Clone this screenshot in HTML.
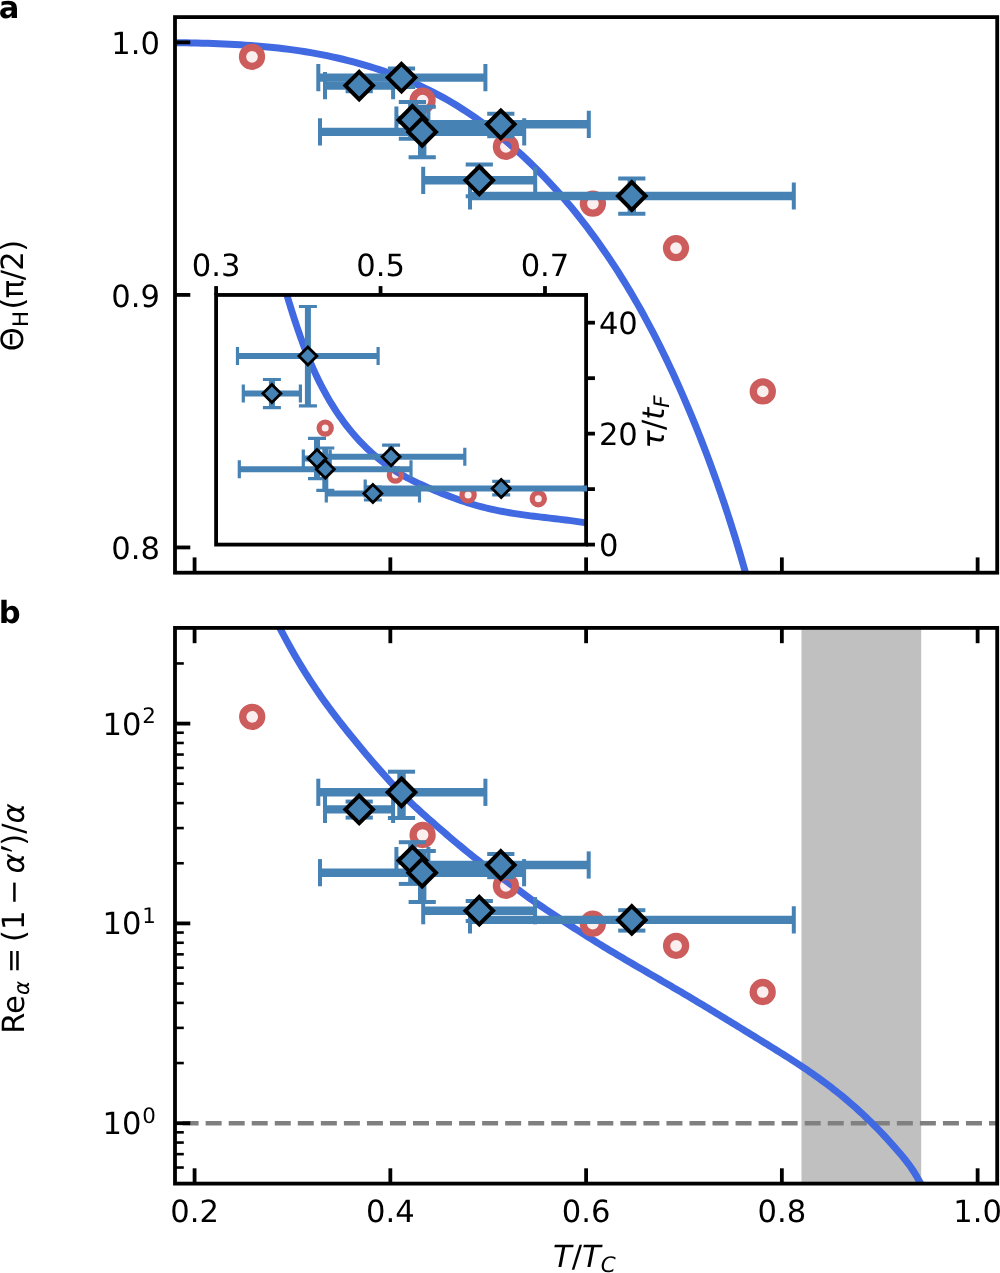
<!DOCTYPE html>
<html lang="en"><head><meta charset="utf-8"><title>Figure</title>
<style>html,body{margin:0;padding:0;background:#fff}svg{display:block;will-change:transform}text{text-rendering:geometricPrecision}</style></head>
<body>
<svg width="1000" height="1273" viewBox="0 0 1000 1273" font-family='"DejaVu Sans", "Liberation Sans", sans-serif' fill="#000">
<defs>
<clipPath id="ca"><rect x="175.0" y="17.1" width="822.2" height="555.6"/></clipPath>
<clipPath id="cb"><rect x="175.0" y="627.9" width="822.2" height="555.7"/></clipPath>
<clipPath id="ci"><rect x="216.1" y="294.95" width="370" height="249.65"/></clipPath>
</defs>
<rect x="0" y="0" width="1000" height="1273" fill="#fff"/>
<g id="panel-a">
<g clip-path="url(#ca)">
<path d="M170.06,42.58 L175.4,42.65 L180.76,42.73 L186.13,42.83 L191.51,42.93 L196.91,43.05 L202.31,43.19 L207.72,43.34 L213.14,43.52 L218.57,43.72 L224,43.95 L229.44,44.2 L234.88,44.49 L240.33,44.8 L245.77,45.15 L251.22,45.53 L256.66,45.95 L262.1,46.41 L267.55,46.91 L272.98,47.46 L278.41,48.05 L283.84,48.68 L289.26,49.37 L294.67,50.11 L300.07,50.9 L305.46,51.75 L310.84,52.65 L316.21,53.6 L321.57,54.61 L326.91,55.68 L332.23,56.81 L337.54,58 L342.83,59.24 L348.11,60.55 L353.36,61.91 L358.59,63.34 L363.8,64.83 L368.99,66.38 L374.15,67.99 L379.29,69.67 L384.41,71.42 L389.49,73.23 L394.55,75.1 L399.58,77.05 L404.58,79.06 L409.55,81.14 L414.48,83.29 L419.39,85.51 L424.25,87.8 L429.09,90.16 L433.88,92.59 L438.64,95.09 L443.36,97.67 L448.04,100.32 L452.69,103.04 L457.29,105.82 L461.86,108.68 L466.39,111.6 L470.88,114.58 L475.33,117.63 L479.75,120.74 L484.12,123.91 L488.46,127.14 L492.76,130.42 L497.02,133.77 L501.24,137.17 L505.42,140.62 L509.56,144.13 L513.66,147.68 L517.73,151.29 L521.75,154.95 L525.74,158.66 L529.68,162.41 L533.59,166.2 L537.46,170.05 L541.28,173.93 L545.07,177.85 L548.82,181.82 L552.53,185.82 L556.2,189.86 L559.82,193.94 L563.41,198.05 L566.96,202.2 L570.47,206.37 L573.94,210.58 L577.37,214.82 L580.75,219.09 L584.1,223.38 L587.41,227.7 L590.67,232.05 L593.9,236.42 L597.09,240.81 L600.23,245.23 L603.34,249.67 L606.42,254.13 L609.45,258.62 L612.45,263.12 L615.41,267.65 L618.33,272.2 L621.22,276.78 L624.08,281.37 L626.9,285.98 L629.69,290.61 L632.44,295.27 L635.16,299.94 L637.85,304.63 L640.51,309.34 L643.13,314.06 L645.73,318.81 L648.29,323.57 L650.83,328.35 L653.33,333.15 L655.81,337.96 L658.26,342.79 L660.68,347.63 L663.07,352.49 L665.44,357.36 L667.78,362.25 L670.09,367.15 L672.38,372.07 L674.65,377 L676.89,381.94 L679.1,386.89 L681.3,391.86 L683.47,396.84 L685.62,401.83 L687.75,406.83 L689.85,411.84 L691.94,416.87 L694,421.9 L696.05,426.94 L698.07,431.99 L700.07,437.05 L702.06,442.12 L704.02,447.2 L705.96,452.28 L707.88,457.37 L709.78,462.47 L711.65,467.58 L713.51,472.69 L715.35,477.81 L717.17,482.93 L718.96,488.06 L720.74,493.19 L722.49,498.33 L724.22,503.47 L725.94,508.62 L727.63,513.77 L729.3,518.92 L730.95,524.08 L732.58,529.23 L734.19,534.39 L735.78,539.55 L737.34,544.71 L738.89,549.88 L740.42,555.04 L741.92,560.2 L743.4,565.36 L744.87,570.53 L746.31,575.69" fill="none" stroke="#4169e1" stroke-width="7.0" stroke-linejoin="round"/>
<circle cx="252" cy="56.8" r="9.5" fill="#cd5c5c" fill-opacity="0.1" stroke="#cd5c5c" stroke-width="7.3"/>
<circle cx="422.6" cy="100.6" r="9.5" fill="#cd5c5c" fill-opacity="0.1" stroke="#cd5c5c" stroke-width="7.3"/>
<circle cx="505.9" cy="146.8" r="9.5" fill="#cd5c5c" fill-opacity="0.1" stroke="#cd5c5c" stroke-width="7.3"/>
<circle cx="592.9" cy="203.6" r="9.5" fill="#cd5c5c" fill-opacity="0.1" stroke="#cd5c5c" stroke-width="7.3"/>
<circle cx="676" cy="248.2" r="9.5" fill="#cd5c5c" fill-opacity="0.1" stroke="#cd5c5c" stroke-width="7.3"/>
<circle cx="762.8" cy="391.4" r="9.5" fill="#cd5c5c" fill-opacity="0.1" stroke="#cd5c5c" stroke-width="7.3"/>
<line x1="325" y1="85.6" x2="393.1" y2="85.6" stroke="#4682b4" stroke-width="8.4"/>
<line x1="359.2" y1="80" x2="359.2" y2="91.2" stroke="#4682b4" stroke-width="8.4"/>
<line x1="318.3" y1="77.6" x2="485.4" y2="77.6" stroke="#4682b4" stroke-width="8.4"/>
<line x1="401.5" y1="68.6" x2="401.5" y2="87" stroke="#4682b4" stroke-width="8.4"/>
<line x1="396.4" y1="120" x2="428.4" y2="120" stroke="#4682b4" stroke-width="8.4"/>
<line x1="412.4" y1="102" x2="412.4" y2="138.8" stroke="#4682b4" stroke-width="8.4"/>
<line x1="320" y1="131.9" x2="524.2" y2="131.9" stroke="#4682b4" stroke-width="8.4"/>
<line x1="422.2" y1="106.8" x2="422.2" y2="157.2" stroke="#4682b4" stroke-width="8.4"/>
<line x1="412.8" y1="124.3" x2="588.8" y2="124.3" stroke="#4682b4" stroke-width="8.4"/>
<line x1="500.8" y1="113.7" x2="500.8" y2="136.3" stroke="#4682b4" stroke-width="8.4"/>
<line x1="423.2" y1="180.3" x2="535.2" y2="180.3" stroke="#4682b4" stroke-width="8.4"/>
<line x1="479.3" y1="164.4" x2="479.3" y2="196.2" stroke="#4682b4" stroke-width="8.4"/>
<line x1="470" y1="196" x2="793.8" y2="196" stroke="#4682b4" stroke-width="8.4"/>
<line x1="631.8" y1="178.6" x2="631.8" y2="213.8" stroke="#4682b4" stroke-width="8.4"/>
<line x1="325" y1="72" x2="325" y2="99.2" stroke="#4682b4" stroke-width="4.0"/>
<line x1="393.1" y1="72" x2="393.1" y2="99.2" stroke="#4682b4" stroke-width="4.0"/>
<line x1="345.6" y1="80" x2="372.8" y2="80" stroke="#4682b4" stroke-width="4.0"/>
<line x1="345.6" y1="91.2" x2="372.8" y2="91.2" stroke="#4682b4" stroke-width="4.0"/>
<line x1="318.3" y1="64" x2="318.3" y2="91.2" stroke="#4682b4" stroke-width="4.0"/>
<line x1="485.4" y1="64" x2="485.4" y2="91.2" stroke="#4682b4" stroke-width="4.0"/>
<line x1="387.9" y1="68.6" x2="415.1" y2="68.6" stroke="#4682b4" stroke-width="4.0"/>
<line x1="387.9" y1="87" x2="415.1" y2="87" stroke="#4682b4" stroke-width="4.0"/>
<line x1="396.4" y1="106.4" x2="396.4" y2="133.6" stroke="#4682b4" stroke-width="4.0"/>
<line x1="428.4" y1="106.4" x2="428.4" y2="133.6" stroke="#4682b4" stroke-width="4.0"/>
<line x1="398.8" y1="102" x2="426" y2="102" stroke="#4682b4" stroke-width="4.0"/>
<line x1="398.8" y1="138.8" x2="426" y2="138.8" stroke="#4682b4" stroke-width="4.0"/>
<line x1="320" y1="118.3" x2="320" y2="145.5" stroke="#4682b4" stroke-width="4.0"/>
<line x1="524.2" y1="118.3" x2="524.2" y2="145.5" stroke="#4682b4" stroke-width="4.0"/>
<line x1="408.6" y1="106.8" x2="435.8" y2="106.8" stroke="#4682b4" stroke-width="4.0"/>
<line x1="408.6" y1="157.2" x2="435.8" y2="157.2" stroke="#4682b4" stroke-width="4.0"/>
<line x1="412.8" y1="110.7" x2="412.8" y2="137.9" stroke="#4682b4" stroke-width="4.0"/>
<line x1="588.8" y1="110.7" x2="588.8" y2="137.9" stroke="#4682b4" stroke-width="4.0"/>
<line x1="487.2" y1="113.7" x2="514.4" y2="113.7" stroke="#4682b4" stroke-width="4.0"/>
<line x1="487.2" y1="136.3" x2="514.4" y2="136.3" stroke="#4682b4" stroke-width="4.0"/>
<line x1="423.2" y1="166.7" x2="423.2" y2="193.9" stroke="#4682b4" stroke-width="4.0"/>
<line x1="535.2" y1="166.7" x2="535.2" y2="193.9" stroke="#4682b4" stroke-width="4.0"/>
<line x1="465.7" y1="164.4" x2="492.9" y2="164.4" stroke="#4682b4" stroke-width="4.0"/>
<line x1="465.7" y1="196.2" x2="492.9" y2="196.2" stroke="#4682b4" stroke-width="4.0"/>
<line x1="470" y1="182.4" x2="470" y2="209.6" stroke="#4682b4" stroke-width="4.0"/>
<line x1="793.8" y1="182.4" x2="793.8" y2="209.6" stroke="#4682b4" stroke-width="4.0"/>
<line x1="618.2" y1="178.6" x2="645.4" y2="178.6" stroke="#4682b4" stroke-width="4.0"/>
<line x1="618.2" y1="213.8" x2="645.4" y2="213.8" stroke="#4682b4" stroke-width="4.0"/>
<path d="M359.2,71.8 L373,85.6 L359.2,99.4 L345.4,85.6 Z" fill="#4682b4" stroke="#000" stroke-width="4.0" stroke-linejoin="miter"/>
<path d="M401.5,63.8 L415.3,77.6 L401.5,91.4 L387.7,77.6 Z" fill="#4682b4" stroke="#000" stroke-width="4.0" stroke-linejoin="miter"/>
<path d="M412.4,106.2 L426.2,120 L412.4,133.8 L398.6,120 Z" fill="#4682b4" stroke="#000" stroke-width="4.0" stroke-linejoin="miter"/>
<path d="M422.2,118.1 L436,131.9 L422.2,145.7 L408.4,131.9 Z" fill="#4682b4" stroke="#000" stroke-width="4.0" stroke-linejoin="miter"/>
<path d="M500.8,110.5 L514.6,124.3 L500.8,138.1 L487,124.3 Z" fill="#4682b4" stroke="#000" stroke-width="4.0" stroke-linejoin="miter"/>
<path d="M479.3,166.5 L493.1,180.3 L479.3,194.1 L465.5,180.3 Z" fill="#4682b4" stroke="#000" stroke-width="4.0" stroke-linejoin="miter"/>
<path d="M631.8,182.2 L645.6,196 L631.8,209.8 L618,196 Z" fill="#4682b4" stroke="#000" stroke-width="4.0" stroke-linejoin="miter"/>
</g>
<line x1="175" y1="547.45" x2="190.3" y2="547.45" stroke="#000" stroke-width="3.8"/>
<text x="160" y="559.2" font-size="30.6" text-anchor="end">0.8</text>
<line x1="175" y1="294.9" x2="190.3" y2="294.9" stroke="#000" stroke-width="3.8"/>
<text x="160" y="306.65" font-size="30.6" text-anchor="end">0.9</text>
<line x1="175" y1="42.35" x2="190.3" y2="42.35" stroke="#000" stroke-width="3.8"/>
<text x="160" y="54.1" font-size="30.6" text-anchor="end">1.0</text>
<line x1="194.58" y1="572.7" x2="194.58" y2="557.4" stroke="#000" stroke-width="3.8"/>
<line x1="390.34" y1="572.7" x2="390.34" y2="557.4" stroke="#000" stroke-width="3.8"/>
<line x1="586.1" y1="572.7" x2="586.1" y2="557.4" stroke="#000" stroke-width="3.8"/>
<line x1="781.86" y1="572.7" x2="781.86" y2="557.4" stroke="#000" stroke-width="3.8"/>
<line x1="977.62" y1="572.7" x2="977.62" y2="557.4" stroke="#000" stroke-width="3.8"/>
<rect x="175" y="17.1" width="822.2" height="555.6" fill="none" stroke="#000" stroke-width="3.8"/>
</g>
<g id="inset">
<rect x="216.1" y="294.95" width="370" height="249.65" fill="#fff"/>
<g clip-path="url(#ci)">
<path d="M285.45,290.07 L286.44,293.42 L287.44,296.79 L288.46,300.15 L289.48,303.51 L290.51,306.88 L291.56,310.24 L292.62,313.61 L293.7,316.97 L294.79,320.33 L295.9,323.68 L297.02,327.03 L298.17,330.38 L299.33,333.72 L300.51,337.05 L301.72,340.38 L302.95,343.7 L304.2,347.01 L305.47,350.31 L306.77,353.6 L308.1,356.87 L309.45,360.14 L310.83,363.39 L312.24,366.63 L313.68,369.86 L315.15,373.07 L316.65,376.26 L318.18,379.44 L319.75,382.6 L321.35,385.74 L322.98,388.86 L324.66,391.96 L326.37,395.04 L328.11,398.1 L329.9,401.14 L331.73,404.16 L333.6,407.15 L335.51,410.12 L337.46,413.06 L339.46,415.97 L341.5,418.86 L343.58,421.72 L345.72,424.55 L347.9,427.35 L350.12,430.12 L352.39,432.85 L354.7,435.55 L357.06,438.21 L359.47,440.83 L361.91,443.4 L364.41,445.93 L366.95,448.42 L369.53,450.86 L372.15,453.25 L374.82,455.59 L377.53,457.87 L380.28,460.1 L383.07,462.28 L385.89,464.4 L388.75,466.45 L391.64,468.44 L394.57,470.37 L397.52,472.24 L400.51,474.04 L403.51,475.76 L406.55,477.42 L409.61,479.03 L412.69,480.58 L415.8,482.09 L418.93,483.56 L422.09,485 L425.26,486.42 L428.45,487.82 L431.67,489.2 L434.91,490.56 L438.16,491.9 L441.43,493.23 L444.72,494.54 L448.03,495.83 L451.35,497.09 L454.69,498.32 L458.04,499.53 L461.41,500.7 L464.79,501.83 L468.18,502.93 L471.58,503.99 L475,505.01 L478.43,505.98 L481.86,506.9 L485.31,507.78 L488.77,508.6 L492.23,509.39 L495.7,510.13 L499.18,510.84 L502.66,511.5 L506.15,512.14 L509.64,512.74 L513.14,513.31 L516.64,513.85 L520.14,514.37 L523.65,514.87 L527.15,515.35 L530.66,515.81 L534.17,516.26 L537.67,516.69 L541.18,517.12 L544.68,517.53 L548.18,517.94 L551.68,518.35 L555.17,518.76 L558.66,519.17 L562.14,519.59 L565.61,520.01 L569.08,520.44 L572.54,520.89 L576,521.34 L579.44,521.82 L582.88,522.31 L586.3,522.83 L589.72,523.37" fill="none" stroke="#4169e1" stroke-width="6.9" stroke-linejoin="round"/>
<circle cx="325.2" cy="428.1" r="6.1" fill="#cd5c5c" fill-opacity="0.1" stroke="#cd5c5c" stroke-width="5.2"/>
<circle cx="395.4" cy="475.1" r="6.1" fill="#cd5c5c" fill-opacity="0.1" stroke="#cd5c5c" stroke-width="5.2"/>
<circle cx="468.1" cy="494.9" r="6.1" fill="#cd5c5c" fill-opacity="0.1" stroke="#cd5c5c" stroke-width="5.2"/>
<circle cx="538.3" cy="498.7" r="6.1" fill="#cd5c5c" fill-opacity="0.1" stroke="#cd5c5c" stroke-width="5.2"/>
<line x1="237.5" y1="356" x2="378.1" y2="356" stroke="#4682b4" stroke-width="6.0"/>
<line x1="307.9" y1="306.5" x2="307.9" y2="405.9" stroke="#4682b4" stroke-width="6.0"/>
<line x1="243.3" y1="393.5" x2="300.4" y2="393.5" stroke="#4682b4" stroke-width="6.0"/>
<line x1="271.9" y1="379.5" x2="271.9" y2="407.6" stroke="#4682b4" stroke-width="6.0"/>
<line x1="303.3" y1="458.6" x2="330.2" y2="458.6" stroke="#4682b4" stroke-width="6.0"/>
<line x1="317" y1="438.4" x2="317" y2="478.7" stroke="#4682b4" stroke-width="6.0"/>
<line x1="239.3" y1="469.3" x2="411" y2="469.3" stroke="#4682b4" stroke-width="6.0"/>
<line x1="325.3" y1="448" x2="325.3" y2="490.4" stroke="#4682b4" stroke-width="6.0"/>
<line x1="317.2" y1="456.7" x2="464.8" y2="456.7" stroke="#4682b4" stroke-width="6.0"/>
<line x1="391.1" y1="445.2" x2="391.1" y2="468.2" stroke="#4682b4" stroke-width="6.0"/>
<line x1="326.3" y1="493.6" x2="419.5" y2="493.6" stroke="#4682b4" stroke-width="6.0"/>
<line x1="372.9" y1="487.2" x2="372.9" y2="500" stroke="#4682b4" stroke-width="6.0"/>
<line x1="365.2" y1="488.5" x2="637" y2="488.5" stroke="#4682b4" stroke-width="6.0"/>
<line x1="501.2" y1="481.3" x2="501.2" y2="494.9" stroke="#4682b4" stroke-width="6.0"/>
<line x1="237.5" y1="347" x2="237.5" y2="365" stroke="#4682b4" stroke-width="3.2"/>
<line x1="378.1" y1="347" x2="378.1" y2="365" stroke="#4682b4" stroke-width="3.2"/>
<line x1="298.9" y1="306.5" x2="316.9" y2="306.5" stroke="#4682b4" stroke-width="3.2"/>
<line x1="298.9" y1="405.9" x2="316.9" y2="405.9" stroke="#4682b4" stroke-width="3.2"/>
<line x1="243.3" y1="384.5" x2="243.3" y2="402.5" stroke="#4682b4" stroke-width="3.2"/>
<line x1="300.4" y1="384.5" x2="300.4" y2="402.5" stroke="#4682b4" stroke-width="3.2"/>
<line x1="262.9" y1="379.5" x2="280.9" y2="379.5" stroke="#4682b4" stroke-width="3.2"/>
<line x1="262.9" y1="407.6" x2="280.9" y2="407.6" stroke="#4682b4" stroke-width="3.2"/>
<line x1="303.3" y1="449.6" x2="303.3" y2="467.6" stroke="#4682b4" stroke-width="3.2"/>
<line x1="330.2" y1="449.6" x2="330.2" y2="467.6" stroke="#4682b4" stroke-width="3.2"/>
<line x1="308" y1="438.4" x2="326" y2="438.4" stroke="#4682b4" stroke-width="3.2"/>
<line x1="308" y1="478.7" x2="326" y2="478.7" stroke="#4682b4" stroke-width="3.2"/>
<line x1="239.3" y1="460.3" x2="239.3" y2="478.3" stroke="#4682b4" stroke-width="3.2"/>
<line x1="411" y1="460.3" x2="411" y2="478.3" stroke="#4682b4" stroke-width="3.2"/>
<line x1="316.3" y1="448" x2="334.3" y2="448" stroke="#4682b4" stroke-width="3.2"/>
<line x1="316.3" y1="490.4" x2="334.3" y2="490.4" stroke="#4682b4" stroke-width="3.2"/>
<line x1="317.2" y1="447.7" x2="317.2" y2="465.7" stroke="#4682b4" stroke-width="3.2"/>
<line x1="464.8" y1="447.7" x2="464.8" y2="465.7" stroke="#4682b4" stroke-width="3.2"/>
<line x1="382.1" y1="445.2" x2="400.1" y2="445.2" stroke="#4682b4" stroke-width="3.2"/>
<line x1="382.1" y1="468.2" x2="400.1" y2="468.2" stroke="#4682b4" stroke-width="3.2"/>
<line x1="326.3" y1="484.6" x2="326.3" y2="502.6" stroke="#4682b4" stroke-width="3.2"/>
<line x1="419.5" y1="484.6" x2="419.5" y2="502.6" stroke="#4682b4" stroke-width="3.2"/>
<line x1="363.9" y1="487.2" x2="381.9" y2="487.2" stroke="#4682b4" stroke-width="3.2"/>
<line x1="363.9" y1="500" x2="381.9" y2="500" stroke="#4682b4" stroke-width="3.2"/>
<line x1="365.2" y1="479.5" x2="365.2" y2="497.5" stroke="#4682b4" stroke-width="3.2"/>
<line x1="637" y1="479.5" x2="637" y2="497.5" stroke="#4682b4" stroke-width="3.2"/>
<line x1="492.2" y1="481.3" x2="510.2" y2="481.3" stroke="#4682b4" stroke-width="3.2"/>
<line x1="492.2" y1="494.9" x2="510.2" y2="494.9" stroke="#4682b4" stroke-width="3.2"/>
<path d="M307.9,347 L316.9,356 L307.9,365 L298.9,356 Z" fill="#4682b4" stroke="#000" stroke-width="2.8" stroke-linejoin="miter"/>
<path d="M271.9,384.5 L280.9,393.5 L271.9,402.5 L262.9,393.5 Z" fill="#4682b4" stroke="#000" stroke-width="2.8" stroke-linejoin="miter"/>
<path d="M317,449.6 L326,458.6 L317,467.6 L308,458.6 Z" fill="#4682b4" stroke="#000" stroke-width="2.8" stroke-linejoin="miter"/>
<path d="M325.3,460.3 L334.3,469.3 L325.3,478.3 L316.3,469.3 Z" fill="#4682b4" stroke="#000" stroke-width="2.8" stroke-linejoin="miter"/>
<path d="M391.1,447.7 L400.1,456.7 L391.1,465.7 L382.1,456.7 Z" fill="#4682b4" stroke="#000" stroke-width="2.8" stroke-linejoin="miter"/>
<path d="M372.9,484.6 L381.9,493.6 L372.9,502.6 L363.9,493.6 Z" fill="#4682b4" stroke="#000" stroke-width="2.8" stroke-linejoin="miter"/>
<path d="M501.2,479.5 L510.2,488.5 L501.2,497.5 L492.2,488.5 Z" fill="#4682b4" stroke="#000" stroke-width="2.8" stroke-linejoin="miter"/>
</g>
<line x1="216.1" y1="294.95" x2="216.1" y2="286.1" stroke="#000" stroke-width="3.8"/>
<text x="216.1" y="276" font-size="30.6" text-anchor="middle">0.3</text>
<line x1="380.54" y1="294.95" x2="380.54" y2="286.1" stroke="#000" stroke-width="3.8"/>
<text x="380.54" y="276" font-size="30.6" text-anchor="middle">0.5</text>
<line x1="544.99" y1="294.95" x2="544.99" y2="286.1" stroke="#000" stroke-width="3.8"/>
<text x="544.99" y="276" font-size="30.6" text-anchor="middle">0.7</text>
<line x1="586.1" y1="544.6" x2="594.95" y2="544.6" stroke="#000" stroke-width="3.8"/>
<line x1="586.1" y1="489.12" x2="594.95" y2="489.12" stroke="#000" stroke-width="3.8"/>
<line x1="586.1" y1="433.64" x2="594.95" y2="433.64" stroke="#000" stroke-width="3.8"/>
<line x1="586.1" y1="378.17" x2="594.95" y2="378.17" stroke="#000" stroke-width="3.8"/>
<line x1="586.1" y1="322.69" x2="594.95" y2="322.69" stroke="#000" stroke-width="3.8"/>
<text x="598.9" y="556.4" font-size="30.6" text-anchor="start">0</text>
<text x="598.9" y="445.44" font-size="30.6" text-anchor="start">20</text>
<text x="598.9" y="334.49" font-size="30.6" text-anchor="start">40</text>
<rect x="216.1" y="294.95" width="370" height="249.65" fill="none" stroke="#000" stroke-width="3.8"/>
<rect x="583" y="485.5" width="4.0" height="6.0" fill="#4682b4"/>
<text transform="translate(664.2,422) rotate(-90)" font-size="30.6" text-anchor="middle"><tspan font-style="oblique">τ</tspan>/<tspan font-style="oblique">t</tspan><tspan font-style="oblique" font-size="21.4" dy="5">F</tspan></text>
</g>
<g id="panel-b">
<g clip-path="url(#cb)">
<rect x="801.5" y="627.9" width="119.7" height="555.7" fill="#c0c0c0"/>
<line x1="159.56" y1="1123.2" x2="997.2" y2="1123.2" stroke="#808080" stroke-width="4.4" stroke-dasharray="16 7.04"/>
<path d="M277.1,622.7 L281.1,630.34 L283.77,635.44 L286.44,640.42 L289.11,645.3 L291.78,650.08 L294.45,654.75 L297.12,659.32 L299.79,663.8 L302.46,668.19 L305.13,672.49 L307.8,676.71 L310.47,680.84 L313.14,684.9 L315.81,688.88 L318.48,692.79 L321.15,696.63 L323.82,700.4 L326.49,704.11 L329.16,707.77 L331.83,711.37 L334.5,714.91 L337.17,718.41 L339.84,721.87 L342.51,725.28 L345.18,728.65 L347.85,731.99 L350.52,735.29 L353.19,738.57 L355.86,741.82 L358.53,745.05 L361.2,748.26 L363.87,751.45 L366.54,754.63 L369.21,757.78 L371.88,760.91 L374.55,764.02 L377.22,767.1 L379.89,770.15 L382.56,773.17 L385.23,776.15 L387.89,779.1 L390.56,782.01 L393.23,784.87 L395.9,787.7 L398.57,790.48 L401.24,793.21 L403.91,795.89 L406.58,798.53 L409.25,801.12 L411.92,803.67 L414.59,806.19 L417.26,808.67 L419.93,811.12 L422.6,813.54 L425.27,815.93 L427.94,818.3 L430.61,820.65 L433.28,822.99 L435.95,825.31 L438.62,827.62 L441.29,829.92 L443.96,832.22 L446.63,834.51 L449.3,836.79 L451.97,839.06 L454.64,841.32 L457.31,843.57 L459.98,845.8 L462.65,848.02 L465.32,850.22 L467.99,852.4 L470.66,854.55 L473.33,856.69 L476,858.79 L478.67,860.88 L481.34,862.93 L484.01,864.96 L486.68,866.96 L489.35,868.94 L492.02,870.9 L494.69,872.84 L497.36,874.77 L500.03,876.69 L502.7,878.61 L505.37,880.53 L508.04,882.44 L510.71,884.36 L513.38,886.28 L516.05,888.22 L518.72,890.17 L521.39,892.14 L524.06,894.12 L526.73,896.1 L529.4,898.06 L532.07,899.99 L534.74,901.85 L537.41,903.68 L540.08,905.48 L542.75,907.27 L545.42,909.06 L548.09,910.85 L550.76,912.63 L553.43,914.41 L556.1,916.19 L558.77,917.97 L561.44,919.73 L564.11,921.49 L566.78,923.24 L569.45,924.99 L572.12,926.72 L574.79,928.45 L577.46,930.17 L580.13,931.88 L582.8,933.59 L585.47,935.28 L588.14,936.97 L590.81,938.65 L593.48,940.31 L596.15,941.97 L598.82,943.63 L601.48,945.27 L604.15,946.9 L606.82,948.52 L609.49,950.14 L612.16,951.75 L614.83,953.34 L617.5,954.94 L620.17,956.52 L622.84,958.11 L625.51,959.68 L628.18,961.25 L630.85,962.82 L633.52,964.38 L636.19,965.94 L638.86,967.49 L641.53,969.04 L644.2,970.59 L646.87,972.14 L649.54,973.69 L652.21,975.24 L654.88,976.79 L657.55,978.33 L660.22,979.88 L662.89,981.43 L665.56,982.98 L668.23,984.53 L670.9,986.09 L673.57,987.65 L676.24,989.21 L678.91,990.78 L681.58,992.35 L684.25,993.93 L686.92,995.51 L689.59,997.1 L692.26,998.69 L694.93,1000.28 L697.6,1001.88 L700.27,1003.49 L702.94,1005.09 L705.61,1006.7 L708.28,1008.32 L710.95,1009.93 L713.62,1011.55 L716.29,1013.18 L718.96,1014.8 L721.63,1016.43 L724.3,1018.06 L726.97,1019.69 L729.64,1021.33 L732.31,1022.96 L734.98,1024.6 L737.65,1026.24 L740.32,1027.88 L742.99,1029.52 L745.66,1031.16 L748.33,1032.81 L751,1034.45 L753.67,1036.09 L756.34,1037.74 L759.01,1039.38 L761.68,1041.02 L764.35,1042.67 L767.02,1044.31 L769.69,1045.96 L772.36,1047.61 L775.03,1049.27 L777.7,1050.93 L780.37,1052.6 L783.04,1054.28 L785.71,1055.97 L788.38,1057.67 L791.05,1059.38 L793.72,1061.1 L796.39,1062.84 L799.06,1064.6 L801.73,1066.37 L804.4,1068.16 L807.07,1069.97 L809.74,1071.8 L812.41,1073.65 L815.07,1075.53 L817.74,1077.42 L820.41,1079.35 L823.08,1081.3 L825.75,1083.28 L828.42,1085.29 L831.09,1087.33 L833.76,1089.4 L836.43,1091.5 L839.1,1093.64 L841.77,1095.81 L844.44,1098.02 L847.11,1100.26 L849.78,1102.55 L852.45,1104.87 L855.12,1107.23 L857.79,1109.63 L860.46,1112.07 L863.13,1114.56 L865.8,1117.08 L868.47,1119.65 L871.14,1122.26 L873.81,1124.92 L876.48,1127.62 L879.15,1130.37 L881.82,1133.16 L884.49,1136 L887.16,1138.89 L889.83,1141.83 L892.5,1144.82 L895.17,1147.85 L897.84,1150.93 L900.51,1154.06 L903.18,1157.26 L905.85,1160.57 L908.52,1164.06 L911.19,1167.78 L913.86,1171.79 L916.53,1176.16 L919.2,1180.93 L922.2,1186.28" fill="none" stroke="#4169e1" stroke-width="7.0" stroke-linejoin="round"/>
<circle cx="252.2" cy="716.8" r="9.5" fill="#cd5c5c" fill-opacity="0.1" stroke="#cd5c5c" stroke-width="7.3"/>
<circle cx="422.6" cy="835" r="9.5" fill="#cd5c5c" fill-opacity="0.1" stroke="#cd5c5c" stroke-width="7.3"/>
<circle cx="505.9" cy="885.8" r="9.5" fill="#cd5c5c" fill-opacity="0.1" stroke="#cd5c5c" stroke-width="7.3"/>
<circle cx="592.8" cy="923.7" r="9.5" fill="#cd5c5c" fill-opacity="0.1" stroke="#cd5c5c" stroke-width="7.3"/>
<circle cx="676.1" cy="945.8" r="9.5" fill="#cd5c5c" fill-opacity="0.1" stroke="#cd5c5c" stroke-width="7.3"/>
<circle cx="762.7" cy="992" r="9.5" fill="#cd5c5c" fill-opacity="0.1" stroke="#cd5c5c" stroke-width="7.3"/>
<line x1="325" y1="809.4" x2="393.1" y2="809.4" stroke="#4682b4" stroke-width="8.4"/>
<line x1="359.2" y1="801.6" x2="359.2" y2="817.6" stroke="#4682b4" stroke-width="8.4"/>
<line x1="318.3" y1="792.3" x2="485.4" y2="792.3" stroke="#4682b4" stroke-width="8.4"/>
<line x1="401.5" y1="771.7" x2="401.5" y2="818" stroke="#4682b4" stroke-width="8.4"/>
<line x1="396.4" y1="860.6" x2="428.4" y2="860.6" stroke="#4682b4" stroke-width="8.4"/>
<line x1="412.4" y1="842.2" x2="412.4" y2="883.9" stroke="#4682b4" stroke-width="8.4"/>
<line x1="320" y1="872.7" x2="524.1" y2="872.7" stroke="#4682b4" stroke-width="8.4"/>
<line x1="422.2" y1="851" x2="422.2" y2="902" stroke="#4682b4" stroke-width="8.4"/>
<line x1="412.8" y1="865" x2="588.7" y2="865" stroke="#4682b4" stroke-width="8.4"/>
<line x1="500.8" y1="854" x2="500.8" y2="877.2" stroke="#4682b4" stroke-width="8.4"/>
<line x1="423.2" y1="910.7" x2="535.1" y2="910.7" stroke="#4682b4" stroke-width="8.4"/>
<line x1="479.3" y1="901" x2="479.3" y2="921" stroke="#4682b4" stroke-width="8.4"/>
<line x1="470" y1="919.9" x2="793.8" y2="919.9" stroke="#4682b4" stroke-width="8.4"/>
<line x1="631.8" y1="910.2" x2="631.8" y2="930.6" stroke="#4682b4" stroke-width="8.4"/>
<line x1="325" y1="795.8" x2="325" y2="823" stroke="#4682b4" stroke-width="4.0"/>
<line x1="393.1" y1="795.8" x2="393.1" y2="823" stroke="#4682b4" stroke-width="4.0"/>
<line x1="345.6" y1="801.6" x2="372.8" y2="801.6" stroke="#4682b4" stroke-width="4.0"/>
<line x1="345.6" y1="817.6" x2="372.8" y2="817.6" stroke="#4682b4" stroke-width="4.0"/>
<line x1="318.3" y1="778.7" x2="318.3" y2="805.9" stroke="#4682b4" stroke-width="4.0"/>
<line x1="485.4" y1="778.7" x2="485.4" y2="805.9" stroke="#4682b4" stroke-width="4.0"/>
<line x1="387.9" y1="771.7" x2="415.1" y2="771.7" stroke="#4682b4" stroke-width="4.0"/>
<line x1="387.9" y1="818" x2="415.1" y2="818" stroke="#4682b4" stroke-width="4.0"/>
<line x1="396.4" y1="847" x2="396.4" y2="874.2" stroke="#4682b4" stroke-width="4.0"/>
<line x1="428.4" y1="847" x2="428.4" y2="874.2" stroke="#4682b4" stroke-width="4.0"/>
<line x1="398.8" y1="842.2" x2="426" y2="842.2" stroke="#4682b4" stroke-width="4.0"/>
<line x1="398.8" y1="883.9" x2="426" y2="883.9" stroke="#4682b4" stroke-width="4.0"/>
<line x1="320" y1="859.1" x2="320" y2="886.3" stroke="#4682b4" stroke-width="4.0"/>
<line x1="524.1" y1="859.1" x2="524.1" y2="886.3" stroke="#4682b4" stroke-width="4.0"/>
<line x1="408.6" y1="851" x2="435.8" y2="851" stroke="#4682b4" stroke-width="4.0"/>
<line x1="408.6" y1="902" x2="435.8" y2="902" stroke="#4682b4" stroke-width="4.0"/>
<line x1="412.8" y1="851.4" x2="412.8" y2="878.6" stroke="#4682b4" stroke-width="4.0"/>
<line x1="588.7" y1="851.4" x2="588.7" y2="878.6" stroke="#4682b4" stroke-width="4.0"/>
<line x1="487.2" y1="854" x2="514.4" y2="854" stroke="#4682b4" stroke-width="4.0"/>
<line x1="487.2" y1="877.2" x2="514.4" y2="877.2" stroke="#4682b4" stroke-width="4.0"/>
<line x1="423.2" y1="897.1" x2="423.2" y2="924.3" stroke="#4682b4" stroke-width="4.0"/>
<line x1="535.1" y1="897.1" x2="535.1" y2="924.3" stroke="#4682b4" stroke-width="4.0"/>
<line x1="465.7" y1="901" x2="492.9" y2="901" stroke="#4682b4" stroke-width="4.0"/>
<line x1="465.7" y1="921" x2="492.9" y2="921" stroke="#4682b4" stroke-width="4.0"/>
<line x1="470" y1="906.3" x2="470" y2="933.5" stroke="#4682b4" stroke-width="4.0"/>
<line x1="793.8" y1="906.3" x2="793.8" y2="933.5" stroke="#4682b4" stroke-width="4.0"/>
<line x1="618.2" y1="910.2" x2="645.4" y2="910.2" stroke="#4682b4" stroke-width="4.0"/>
<line x1="618.2" y1="930.6" x2="645.4" y2="930.6" stroke="#4682b4" stroke-width="4.0"/>
<path d="M359.2,795.6 L373,809.4 L359.2,823.2 L345.4,809.4 Z" fill="#4682b4" stroke="#000" stroke-width="4.0" stroke-linejoin="miter"/>
<path d="M401.5,778.5 L415.3,792.3 L401.5,806.1 L387.7,792.3 Z" fill="#4682b4" stroke="#000" stroke-width="4.0" stroke-linejoin="miter"/>
<path d="M412.4,846.8 L426.2,860.6 L412.4,874.4 L398.6,860.6 Z" fill="#4682b4" stroke="#000" stroke-width="4.0" stroke-linejoin="miter"/>
<path d="M422.2,858.9 L436,872.7 L422.2,886.5 L408.4,872.7 Z" fill="#4682b4" stroke="#000" stroke-width="4.0" stroke-linejoin="miter"/>
<path d="M500.8,851.2 L514.6,865 L500.8,878.8 L487,865 Z" fill="#4682b4" stroke="#000" stroke-width="4.0" stroke-linejoin="miter"/>
<path d="M479.3,896.9 L493.1,910.7 L479.3,924.5 L465.5,910.7 Z" fill="#4682b4" stroke="#000" stroke-width="4.0" stroke-linejoin="miter"/>
<path d="M631.8,906.1 L645.6,919.9 L631.8,933.7 L618,919.9 Z" fill="#4682b4" stroke="#000" stroke-width="4.0" stroke-linejoin="miter"/>
</g>
<line x1="175" y1="1123.2" x2="190.3" y2="1123.2" stroke="#000" stroke-width="3.8"/>
<text x="155.8" y="1134.1" font-size="30.6" text-anchor="end">10<tspan font-size="21.4" dy="-11.5" dx="0.7">0</tspan></text>
<line x1="175" y1="923.4" x2="190.3" y2="923.4" stroke="#000" stroke-width="3.8"/>
<text x="155.8" y="934.3" font-size="30.6" text-anchor="end">10<tspan font-size="21.4" dy="-11.5" dx="0.7">1</tspan></text>
<line x1="175" y1="723.6" x2="190.3" y2="723.6" stroke="#000" stroke-width="3.8"/>
<text x="155.8" y="734.5" font-size="30.6" text-anchor="end">10<tspan font-size="21.4" dy="-11.5" dx="0.7">2</tspan></text>
<line x1="175" y1="1167.53" x2="183.8" y2="1167.53" stroke="#000" stroke-width="2.6"/>
<line x1="175" y1="1154.15" x2="183.8" y2="1154.15" stroke="#000" stroke-width="2.6"/>
<line x1="175" y1="1142.56" x2="183.8" y2="1142.56" stroke="#000" stroke-width="2.6"/>
<line x1="175" y1="1132.34" x2="183.8" y2="1132.34" stroke="#000" stroke-width="2.6"/>
<line x1="175" y1="1063.05" x2="183.8" y2="1063.05" stroke="#000" stroke-width="2.6"/>
<line x1="175" y1="1027.87" x2="183.8" y2="1027.87" stroke="#000" stroke-width="2.6"/>
<line x1="175" y1="1002.91" x2="183.8" y2="1002.91" stroke="#000" stroke-width="2.6"/>
<line x1="175" y1="983.55" x2="183.8" y2="983.55" stroke="#000" stroke-width="2.6"/>
<line x1="175" y1="967.73" x2="183.8" y2="967.73" stroke="#000" stroke-width="2.6"/>
<line x1="175" y1="954.35" x2="183.8" y2="954.35" stroke="#000" stroke-width="2.6"/>
<line x1="175" y1="942.76" x2="183.8" y2="942.76" stroke="#000" stroke-width="2.6"/>
<line x1="175" y1="932.54" x2="183.8" y2="932.54" stroke="#000" stroke-width="2.6"/>
<line x1="175" y1="863.25" x2="183.8" y2="863.25" stroke="#000" stroke-width="2.6"/>
<line x1="175" y1="828.07" x2="183.8" y2="828.07" stroke="#000" stroke-width="2.6"/>
<line x1="175" y1="803.11" x2="183.8" y2="803.11" stroke="#000" stroke-width="2.6"/>
<line x1="175" y1="783.75" x2="183.8" y2="783.75" stroke="#000" stroke-width="2.6"/>
<line x1="175" y1="767.93" x2="183.8" y2="767.93" stroke="#000" stroke-width="2.6"/>
<line x1="175" y1="754.55" x2="183.8" y2="754.55" stroke="#000" stroke-width="2.6"/>
<line x1="175" y1="742.96" x2="183.8" y2="742.96" stroke="#000" stroke-width="2.6"/>
<line x1="175" y1="732.74" x2="183.8" y2="732.74" stroke="#000" stroke-width="2.6"/>
<line x1="175" y1="663.45" x2="183.8" y2="663.45" stroke="#000" stroke-width="2.6"/>
<line x1="194.58" y1="1183.6" x2="194.58" y2="1168.3" stroke="#000" stroke-width="3.8"/>
<line x1="194.58" y1="627.9" x2="194.58" y2="643.2" stroke="#000" stroke-width="3.8"/>
<text x="194.58" y="1221.9" font-size="30.6" text-anchor="middle">0.2</text>
<line x1="390.34" y1="1183.6" x2="390.34" y2="1168.3" stroke="#000" stroke-width="3.8"/>
<line x1="390.34" y1="627.9" x2="390.34" y2="643.2" stroke="#000" stroke-width="3.8"/>
<text x="390.34" y="1221.9" font-size="30.6" text-anchor="middle">0.4</text>
<line x1="586.1" y1="1183.6" x2="586.1" y2="1168.3" stroke="#000" stroke-width="3.8"/>
<line x1="586.1" y1="627.9" x2="586.1" y2="643.2" stroke="#000" stroke-width="3.8"/>
<text x="586.1" y="1221.9" font-size="30.6" text-anchor="middle">0.6</text>
<line x1="781.86" y1="1183.6" x2="781.86" y2="1168.3" stroke="#000" stroke-width="3.8"/>
<line x1="781.86" y1="627.9" x2="781.86" y2="643.2" stroke="#000" stroke-width="3.8"/>
<text x="781.86" y="1221.9" font-size="30.6" text-anchor="middle">0.8</text>
<line x1="977.62" y1="1183.6" x2="977.62" y2="1168.3" stroke="#000" stroke-width="3.8"/>
<line x1="977.62" y1="627.9" x2="977.62" y2="643.2" stroke="#000" stroke-width="3.8"/>
<text x="977.62" y="1221.9" font-size="30.6" text-anchor="middle">1.0</text>
<rect x="175" y="627.9" width="822.2" height="555.7" fill="none" stroke="#000" stroke-width="3.8"/>
</g>
<text x="-1.2" y="17.5" font-size="30.6" text-anchor="start" font-weight="bold">a</text>
<text x="-1.2" y="623.1" font-size="30.6" text-anchor="start" font-weight="bold">b</text>
<text transform="translate(23.2,295.8) rotate(-90)" font-size="30.6" text-anchor="middle">Θ<tspan font-size="21.4" dy="5">H</tspan><tspan dy="-5" dx="1.5" letter-spacing="-0.6">(π/2)</tspan></text>
<g transform="translate(24.2,1033.8) rotate(-90)">
<text font-size="30.6" text-anchor="start">Re<tspan font-size="21.4" dy="5" font-style="oblique">α</tspan><tspan dy="-5" dx="7.6">=</tspan><tspan dx="5.7">(1</tspan><tspan dx="5.6">−</tspan><tspan dx="6.0" font-style="oblique">α</tspan><tspan dx="7.45">)/</tspan><tspan font-style="oblique">α</tspan></text>
<text transform="translate(181.6,19.9) scale(1.05,1.92)" font-size="30.6">′</text>
</g>
<text x="584.4" y="1267.1" font-size="30.6" text-anchor="middle"><tspan font-style="oblique">T</tspan>/<tspan font-style="oblique">T</tspan><tspan font-style="oblique" font-size="21.4" dy="5">C</tspan></text>
</svg>
</body></html>
